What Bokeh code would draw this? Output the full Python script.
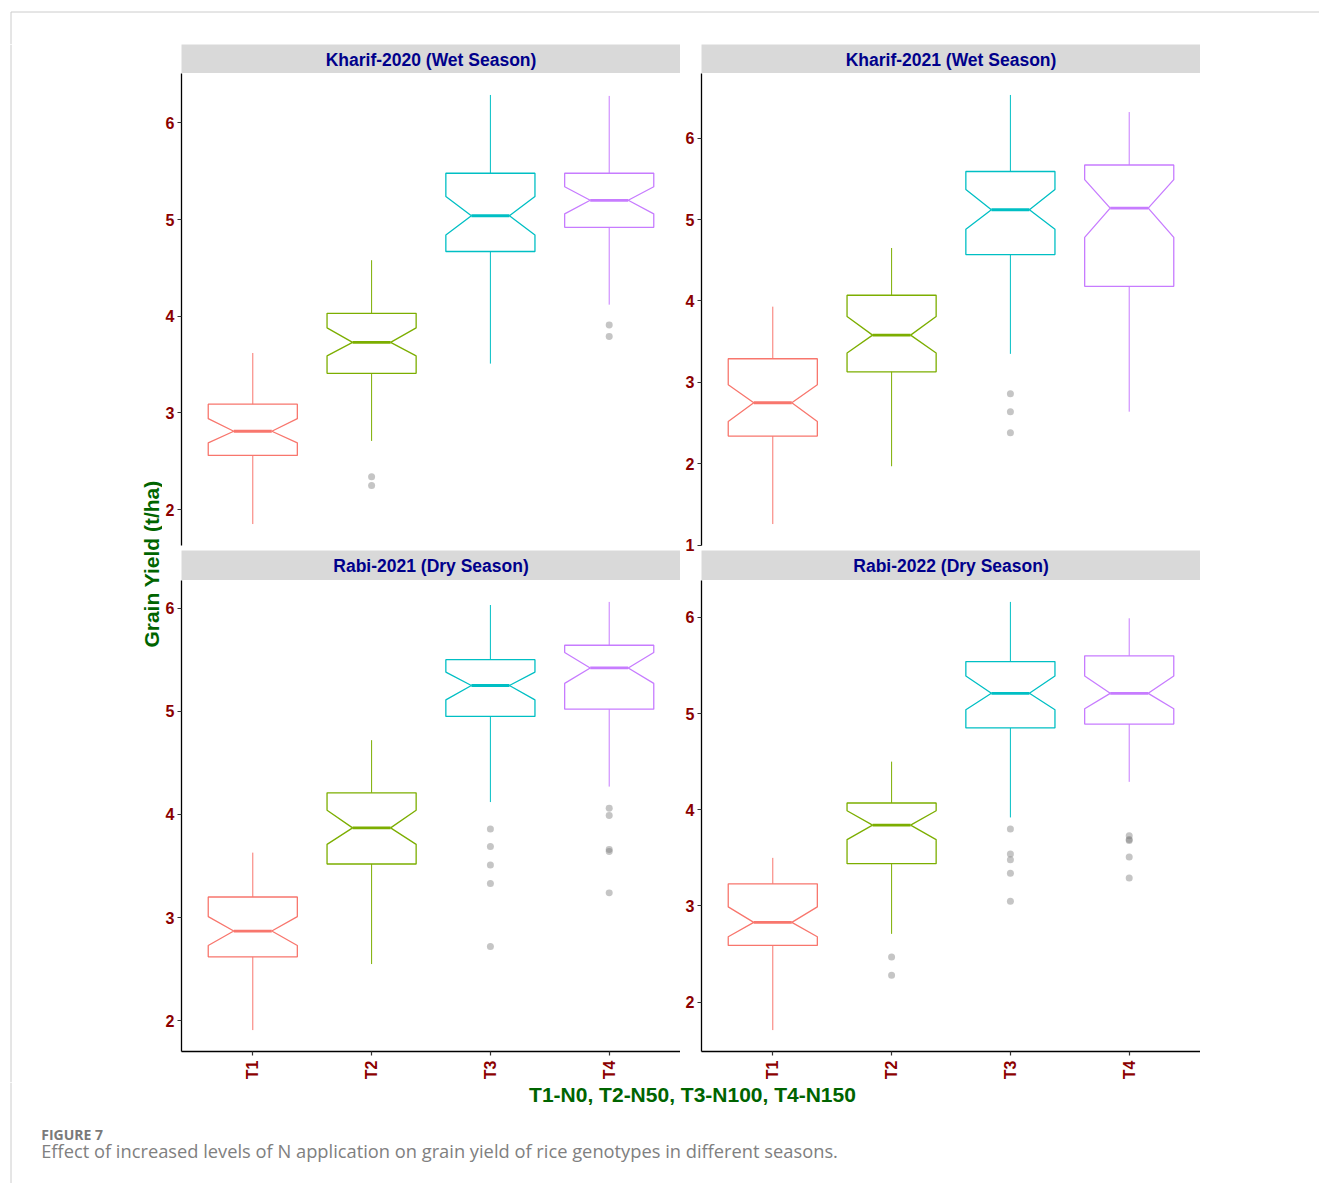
import math
from bokeh.plotting import figure
from bokeh.layouts import row, column
from bokeh.models import Range1d, FixedTicker, Label
from bokeh.embed import file_html
from bokeh.resources import INLINE
from bokeh.core.validation import silence
from bokeh.core.validation.warnings import MISSING_RENDERERS

silence(MISSING_RENDERERS, True)

# ---------------- data ----------------
treatments = ["T1", "T2", "T3", "T4"]
K20 = "Kharif-2020 (Wet Season)"
K21 = "Kharif-2021 (Wet Season)"
R21 = "Rabi-2021 (Dry Season)"
R22 = "Rabi-2022 (Dry Season)"
seasons = [K20, K21, R21, R22]
y_ticks = [1, 2, 3, 4, 5, 6]
x_title = "T1-N0, T2-N50, T3-N100, T4-N150"
y_title = "Grain Yield (t/ha)"
fig_label = "FIGURE 7"
caption = "Effect of increased levels of N application on grain yield of rice genotypes in different seasons."

whisker_low = {
    K20: [1.85, 2.71, 3.51, 4.12],
    K21: [1.26, 1.97, 3.35, 2.64],
    R21: [1.91, 2.55, 4.12, 4.27],
    R22: [1.71, 2.71, 3.92, 4.29],
}
q1 = {
    K20: [2.56, 3.41, 4.67, 4.92],
    K21: [2.34, 3.13, 4.57, 4.18],
    R21: [2.62, 3.52, 4.95, 5.02],
    R22: [2.59, 3.44, 4.85, 4.89],
}
notch_low = {
    K20: [2.69, 3.59, 4.84, 5.06],
    K21: [2.52, 3.36, 4.88, 4.78],
    R21: [2.73, 3.71, 5.11, 5.27],
    R22: [2.68, 3.69, 5.04, 5.05],
}
median = {
    K20: [2.81, 3.73, 5.04, 5.20],
    K21: [2.75, 3.58, 5.12, 5.14],
    R21: [2.87, 3.87, 5.25, 5.42],
    R22: [2.83, 3.84, 5.21, 5.21],
}
notch_high = {
    K20: [2.94, 3.88, 5.24, 5.34],
    K21: [2.97, 3.81, 5.37, 5.49],
    R21: [3.01, 4.04, 5.38, 5.57],
    R22: [2.99, 3.99, 5.39, 5.39],
}
q3 = {
    K20: [3.09, 4.03, 5.48, 5.48],
    K21: [3.29, 4.07, 5.59, 5.67],
    R21: [3.20, 4.21, 5.50, 5.64],
    R22: [3.23, 4.07, 5.54, 5.60],
}
whisker_high = {
    K20: [3.62, 4.58, 6.29, 6.28],
    K21: [3.93, 4.65, 6.53, 6.32],
    R21: [3.63, 4.72, 6.03, 6.06],
    R22: [3.50, 4.50, 6.16, 5.99],
}
outliers = {
    K20: [[], [2.34, 2.25], [], [3.91, 3.79]],
    K21: [[], [], [2.86, 2.64, 2.38], []],
    R21: [[], [], [3.86, 3.69, 3.51, 3.33, 2.72], [4.06, 3.99, 3.66, 3.64, 3.24]],
    R22: [[], [2.47, 2.28], [3.80, 3.54, 3.48, 3.34, 3.05], [3.73, 3.69, 3.68, 3.51, 3.29]],
}

# ---------------- style ----------------
colors = ["#F8766D", "#7CAE00", "#00BFC4", "#C77CFF"]
FONT = "Liberation Sans"
TICK_COLOR = "#8B0000"
STRIP_COLOR = "#00008B"
TITLE_COLOR = "#006400"
HALF_BOX = 0.375
HALF_NOTCH = 0.16
TOTAL_W = 1319
BORDER = "#cccccc"
OVERLAP = 12  # lower strips slide up over the (transparent) bottom border of the upper panels


def deco(width, height):
    p = figure(width=width, height=height, x_range=Range1d(0, width), y_range=Range1d(0, height),
               x_axis_location=None, y_axis_location=None, toolbar_location=None,
               output_backend="svg", min_border=0, outline_line_color=None)
    p.grid.visible = False
    return p


def strip(title, width, border_left, height, mid_y, shift=0):
    fw = width - border_left
    s = figure(width=width, height=height, x_range=Range1d(0, fw), y_range=Range1d(0, height),
               x_axis_location=None, y_axis_location=None, toolbar_location=None,
               output_backend="svg", min_border_left=border_left, min_border_right=0,
               min_border_top=0, min_border_bottom=0, outline_line_color=None,
               background_fill_color="#D9D9D9", border_fill_alpha=0)
    s.grid.visible = False
    if shift:
        s.margin = (-shift, 0, 0, 0)
    s.add_layout(Label(x=fw / 2, y=mid_y, text=title, text_align="center",
                       text_baseline="middle", text_font=FONT, text_font_style="bold",
                       text_font_size="17.5px", text_color=STRIP_COLOR))
    return s


def panel(season, width, border_left, height, border_bottom, show_x):
    pts = [v for lst in outliers[season] for v in lst]
    lo = min(whisker_low[season] + pts)
    hi = max(whisker_high[season] + pts)
    span = hi - lo
    p = figure(width=width, height=height, x_range=Range1d(0.4, 4.6),
               y_range=Range1d(lo - 0.05 * span, hi + 0.05 * span),
               x_axis_location="below" if show_x else None, toolbar_location=None,
               output_backend="svg", min_border_left=border_left, min_border_right=0,
               min_border_top=0, min_border_bottom=border_bottom, outline_line_color=None,
               border_fill_alpha=0)
    p.grid.visible = False

    axes = [p.yaxis[0]] + ([p.xaxis[0]] if show_x else [])
    for ax in axes:
        ax.axis_line_color = "black"
        ax.axis_line_width = 1.3
        ax.major_tick_line_color = "#333333"
        ax.major_tick_line_width = 1.2
        ax.major_tick_out = 4
        ax.major_tick_in = 0
        ax.minor_tick_out = 0
        ax.minor_tick_in = 0
        ax.major_label_text_font = FONT
        ax.major_label_text_font_style = "bold"
        ax.major_label_text_font_size = "16px"
        ax.major_label_text_color = TICK_COLOR
    p.yaxis[0].ticker = FixedTicker(ticks=y_ticks)
    p.yaxis[0].major_label_standoff = 3
    if show_x:
        xa = p.xaxis[0]
        xa.ticker = FixedTicker(ticks=[i + 1 for i in range(len(treatments))])
        xa.major_label_overrides = {i + 1: t for i, t in enumerate(treatments)}
        xa.major_label_orientation = math.pi / 2
        xa.major_label_standoff = 5

    pos = [i + 1 for i in range(len(treatments))]
    xs, ys = [], []
    for i, x in enumerate(pos):
        a, b, c = x - HALF_BOX, x - HALF_NOTCH, x + HALF_NOTCH
        d = x + HALF_BOX
        xs.append([a, a, b, a, a, d, d, c, d, d])
        ys.append([q1[season][i], notch_low[season][i], median[season][i], notch_high[season][i],
                   q3[season][i], q3[season][i], notch_high[season][i], median[season][i],
                   notch_low[season][i], q1[season][i]])
    p.segment(x0=pos, y0=q3[season], x1=pos, y1=whisker_high[season], line_color=colors, line_width=1.0)
    p.segment(x0=pos, y0=q1[season], x1=pos, y1=whisker_low[season], line_color=colors, line_width=1.0)
    p.patches(xs, ys, fill_color=None, line_color=colors, line_width=1.3)
    p.segment(x0=[x - HALF_NOTCH for x in pos], y0=median[season],
              x1=[x + HALF_NOTCH for x in pos], y1=median[season],
              line_color=colors, line_width=2.8)
    ox, oy = [], []
    for i, lst in enumerate(outliers[season]):
        for v in lst:
            ox.append(pos[i])
            oy.append(v)
    p.scatter(ox, oy, size=7, fill_color="#7f7f7f", fill_alpha=0.45, line_color=None)
    return p


# ---------------- layout (page starts at 0,0) ----------------
TOP_H = 44
MID_H = 1038
BOT_H = 101
LEFT_W = 162

top = deco(TOTAL_W, TOP_H)
top.segment(x0=[10.5, 10.5], y0=[TOP_H - 11.5, TOP_H - 11.5], x1=[TOTAL_W, 10.5], y1=[TOP_H - 11.5, 0],
            line_color=BORDER, line_width=1)

left = deco(LEFT_W, MID_H)
left.segment(x0=[10.5], y0=[0], x1=[10.5], y1=[MID_H], line_color=BORDER, line_width=1)
left.add_layout(Label(x=150.5, y=MID_H - (563.5 - TOP_H), text=y_title, angle=math.pi / 2,
                      text_align="center", text_baseline="middle", text_font=FONT,
                      text_font_style="bold", text_font_size="21px", text_color=TITLE_COLOR))

colL = column(strip(K20, 518, 19, 29, 13.2), panel(K20, 518, 19, 477 + OVERLAP, 5 + OVERLAP, False),
              strip(R21, 518, 19, 30, 14.5, OVERLAP), panel(R21, 518, 19, 502, 31, True))
colR = column(strip(K21, 520, 21, 29, 13.2), panel(K21, 520, 21, 477 + OVERLAP, 5 + OVERLAP, False),
              strip(R22, 520, 21, 30, 14.5, OVERLAP), panel(R22, 520, 21, 502, 31, True))

bottom = deco(TOTAL_W, BOT_H)
bottom.segment(x0=[10.5], y0=[0], x1=[10.5], y1=[BOT_H], line_color=BORDER, line_width=1)
bottom.add_layout(Label(x=692, y=BOT_H - (1094 - 1082), text=x_title, text_align="center",
                        text_baseline="middle", text_font=FONT, text_font_style="bold",
                        text_font_size="21px", text_color=TITLE_COLOR))
bottom.add_layout(Label(x=40.7, y=BOT_H - (1133.7 - 1082), text=fig_label, text_align="left",
                        text_baseline="middle", text_font="Open Sans", text_font_style="bold",
                        text_font_size="14px", text_color="#7a7a7a"))
bottom.add_layout(Label(x=40.7, y=BOT_H - (1150 - 1082), text=caption, text_align="left",
                        text_baseline="middle", text_font="Open Sans", text_font_size="18.3px",
                        text_color="#808080"))

root = column(top, row(left, colL, colR), bottom)

open("out.html", "w").write(file_html(root, INLINE))
